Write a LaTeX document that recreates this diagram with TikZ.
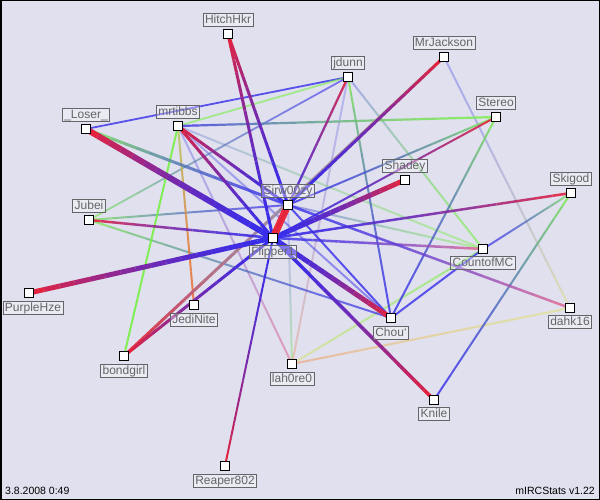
\documentclass[tikz,border=0pt]{standalone}
\usepackage{fontspec}
\setmainfont{Liberation Sans}
\usetikzlibrary{calc}
\definecolor{bg}{RGB}{224,224,238}
\definecolor{cR}{RGB}{235,35,55}
\definecolor{cB}{RGB}{55,45,235}
\definecolor{cG}{RGB}{120,240,70}
\definecolor{cT}{RGB}{215,190,130}
\definecolor{cGy}{RGB}{160,140,165}
\definecolor{cO}{RGB}{240,160,120}
\definecolor{cOr}{RGB}{235,115,60}
\definecolor{cY}{RGB}{225,225,130}
\definecolor{cL}{RGB}{130,130,235}
\definecolor{cP}{RGB}{230,100,140}
\definecolor{lbl}{RGB}{100,100,105}
\pgfdeclarelayer{bglayer}
\pgfdeclarelayer{edges}
\pgfsetlayers{bglayer,edges,main}
\newcommand{\gedge}[6]{%
  \foreach \i in {0,...,15}{%
    \pgfmathsetmacro{\ta}{\i/16}%
    \pgfmathsetmacro{\tb}{(\i+1)/16}%
    \pgfmathtruncatemacro{\pc}{100*(1-(\i+0.5)/16)^1.6}%
    \draw[line width=#5pt, draw opacity=#6, draw=#3!\pc!#4] ($(#1)!\ta!(#2)$) -- ($(#1)!\tb!(#2)$);
  }}
\tikzset{
  sq/.style={draw=black, fill=white, line width=1pt, minimum size=9pt, inner sep=0pt},
  lab/.style={draw=lbl, fill=white, fill opacity=0.35, text opacity=1, text=lbl,
    font=\fontsize{12}{13}\selectfont, inner xsep=2pt, inner ysep=1.2pt,
    text height=9pt, text depth=2.3pt, line width=0.8pt},
  foot/.style={font=\fontsize{10.5}{11}\selectfont, text=black, inner sep=0pt}
}
\begin{document}
\begin{tikzpicture}[x=1pt,y=-1pt]
\useasboundingbox (0,0) rectangle (600,500);
\begin{pgfonlayer}{bglayer}
\fill[bg] (0,0) rectangle (600,500);
\draw[black, line width=1.5pt] (0.75,0.75) rectangle (599.25,499.25);
\end{pgfonlayer}
% nodes
\node[sq] (hitch) at (228,34) {};
\node[sq] (mrj) at (444,57) {};
\node[sq] (jdunn) at (348,77) {};
\node[sq] (stereo) at (496,117) {};
\node[sq] (loser) at (86,129) {};
\node[sq] (mrt) at (178,126) {};
\node[sq] (shadey) at (405,180) {};
\node[sq] (skigod) at (571,193) {};
\node[sq] (sirw) at (288,205) {};
\node[sq] (jubei) at (89,220) {};
\node[sq] (flip) at (273,238) {};
\node[sq] (cmc) at (483,249) {};
\node[sq] (purple) at (29,293) {};
\node[sq] (jedi) at (194,305) {};
\node[sq] (dahk) at (570,308) {};
\node[sq] (chou) at (391,318) {};
\node[sq] (lah) at (292,364) {};
\node[sq] (bond) at (124,356) {};
\node[sq] (knile) at (434,400) {};
\node[sq] (reaper) at (225,466) {};
\coordinate (mbmid) at ($(mrj)!0.5!(bond)$);
% labels
\node[lab] (hitchL) at ($(hitch)+(0,-14)$) {HitchHkr};
\node[lab] (mrjL) at ($(mrj)+(0,-14)$) {MrJackson};
\node[lab] (jdunnL) at ($(jdunn)+(0,-14)$) {jdunn};
\node[lab] (stereoL) at ($(stereo)+(0,-14)$) {Stereo};
\node[lab] (loserL) at ($(loser)+(0,-14)$) {\_Loser\_};
\node[lab] (mrtL) at ($(mrt)+(0,-14)$) {mrtibbs};
\node[lab] (shadeyL) at ($(shadey)+(0,-14)$) {Shadey};
\node[lab] (skigodL) at ($(skigod)+(0,-14)$) {Skigod};
\node[lab] (sirwL) at ($(sirw)+(0,-14)$) {Sirw00zy};
\node[lab] (jubeiL) at ($(jubei)+(0,-14)$) {Jubei};
\node[lab] (flipL) at ($(flip)+(0,14)$) {Flipper1};
\node[lab] (cmcL) at ($(cmc)+(0,14)$) {CountofMC};
\node[lab] (purpleL) at ($(purple)+(4,15)$) {PurpleHze};
\node[lab] (jediL) at ($(jedi)+(0,15)$) {JediNite};
\node[lab] (dahkL) at ($(dahk)+(0,14)$) {dahk16};
\node[lab] (chouL) at ($(chou)+(0,15)$) {Chou`};
\node[lab] (lahL) at ($(lah)+(0,15)$) {lah0re0};
\node[lab] (bondL) at ($(bond)+(0,15)$) {bondgirl};
\node[lab] (knileL) at ($(knile)+(0,14)$) {Knile};
\node[lab] (reaperL) at ($(reaper)+(0,15)$) {Reaper802};
\node[foot, anchor=west] (date) at (5,491) {3.8.2008 0:49};
\node[foot, anchor=east] (ver) at (595,491) {mIRCStats v1.22};
% edges
\begin{pgfonlayer}{edges}
\gedge{lah}{cmc}{cY}{cG}{2}{0.6}
\gedge{lah}{dahk}{cO}{cY}{2}{0.65}
\gedge{lah}{sirw}{cG}{cL}{2}{0.4}
\gedge{lah}{jdunn}{cO}{cL}{2}{0.45}
\gedge{lah}{mrt}{cP}{cL}{2}{0.55}
\gedge{dahk}{mrj}{cY}{cL}{2}{0.55}
\gedge{mrt}{cmc}{cL}{cG}{2}{0.45}
\gedge{mrt}{chou}{cL}{cB}{2}{0.5}
\gedge{sirw}{cmc}{cB}{cG}{2}{0.45}
\gedge{jdunn}{cmc}{cL}{cG}{2}{0.6}
\gedge{jdunn}{sirw}{cL}{cL}{2}{0.6}
\gedge{loser}{jdunn}{cB}{cB}{1.8}{0.8}
\gedge{mrt}{jdunn}{cG}{cG}{1.8}{0.6}
\gedge{jubei}{jdunn}{cG}{cB}{1.8}{0.6}
\gedge{jubei}{sirw}{cG}{cB}{2}{0.7}
\gedge{jubei}{chou}{cG}{cB}{2}{0.7}
\gedge{mrt}{stereo}{cB}{cG}{2.2}{0.8}
\gedge{mrt}{bond}{cG}{cG}{2}{0.9}
\gedge{mrt}{jedi}{cG!40!cT}{cOr}{2}{0.9}
\gedge{jdunn}{chou}{cG}{cB}{2}{0.8}
\gedge{stereo}{chou}{cG}{cB}{2}{0.8}
\gedge{stereo}{sirw}{cG}{cB}{2}{0.8}
\gedge{skigod}{cmc}{cG}{cB}{2}{0.7}
\gedge{skigod}{knile}{cG}{cB}{2}{0.8}
\gedge{cmc}{chou}{cB}{cB}{2}{0.8}
\gedge{sirw}{chou}{cB}{cB}{2}{0.8}
\gedge{loser}{sirw}{cG}{cB}{3}{0.8}
\gedge{jdunn}{flip}{cR}{cB}{2.2}{0.9}
\gedge{mrj}{mbmid}{cT}{cGy}{3}{1}
\gedge{bond}{mbmid}{cR}{cGy}{3}{1}
\gedge{mrj}{sirw}{cR}{cB}{3}{1}
\gedge{stereo}{flip}{cR}{cB}{2}{0.9}
\gedge{cmc}{flip}{cP}{cB}{2.5}{0.8}
\gedge{dahk}{sirw}{cP}{cB}{2.5}{0.8}
\gedge{skigod}{flip}{cR}{cB}{2.5}{0.9}
\gedge{jubei}{flip}{cR}{cB}{2.5}{0.9}
\gedge{reaper}{flip}{cR}{cB}{2}{1}
\gedge{knile}{flip}{cR}{cB}{3.5}{1}
\gedge{bond}{flip}{cR}{cB}{3}{1}
\gedge{hitch}{flip}{cR}{cB}{3}{1}
\gedge{hitch}{sirw}{cR}{cB}{3}{1}
\gedge{mrt}{flip}{cR}{cB}{3}{1}
\gedge{mrt}{sirw}{cR}{cB}{3}{1}
\gedge{chou}{flip}{cR}{cB}{5}{1}
\gedge{shadey}{flip}{cR}{cB}{5}{1}
\gedge{purple}{flip}{cR}{cB}{5}{1}
\gedge{loser}{flip}{cR}{cB}{6}{1}
\gedge{sirw}{flip}{cR}{cR}{7}{1}
\end{pgfonlayer}
\end{tikzpicture}
\end{document}
